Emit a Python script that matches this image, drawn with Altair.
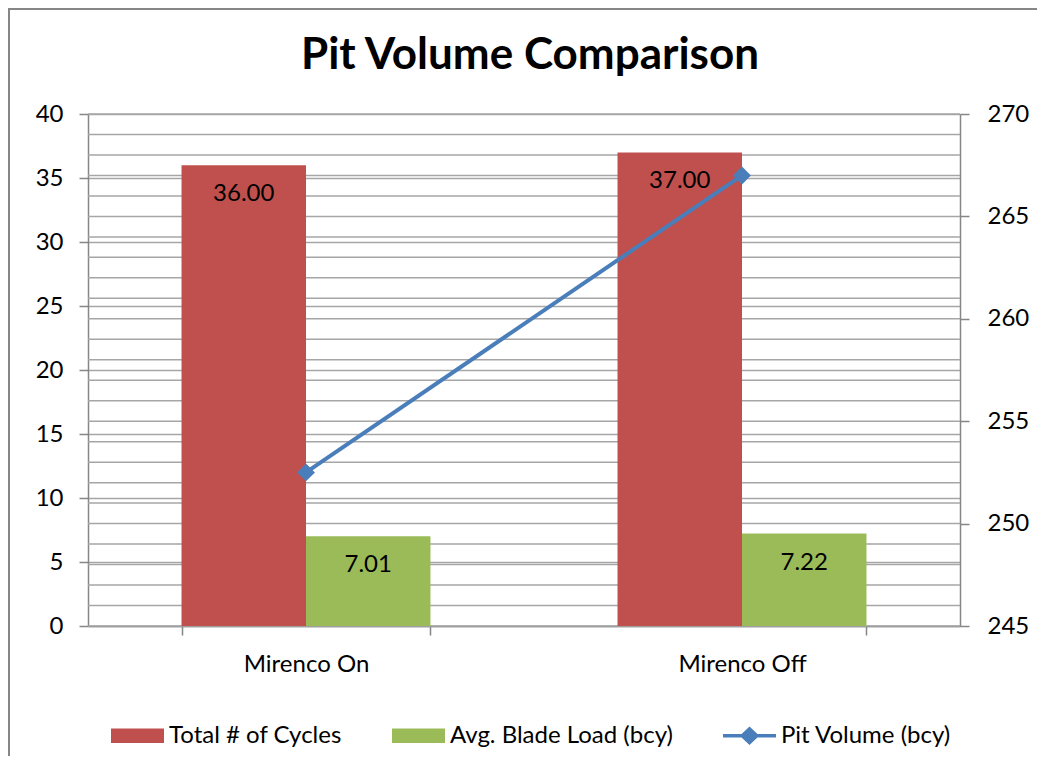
import altair as alt
import pandas as pd

chart_title = "Pit Volume Comparison"
categories = ["Mirenco On", "Mirenco Off"]
total_cycles = [36.00, 37.00]
blade_load = [7.01, 7.22]
pit_volume = [252.5, 267.0]
series_names = ["Total # of Cycles", "Avg. Blade Load (bcy)", "Pit Volume (bcy)"]
series_colors = ["#c0504d", "#9bbb59", "#4a7ebb"]
left_ticks = [0, 5, 10, 15, 20, 25, 30, 35, 40]
right_ticks = [245, 250, 255, 260, 265, 270]
right_grid = list(range(245, 271))

FONT = "Lato"
GRID = "#a6a6a6"
AXIS = "#868686"
FS = 24

bars_df = pd.DataFrame({
    "category": categories * 2,
    "series": [series_names[0]] * 2 + [series_names[1]] * 2,
    "value": total_cycles + blade_load,
})
bars_df["label"] = [f"{v:.2f}" for v in bars_df["value"]]
line_df = pd.DataFrame({"category": categories, "value": pit_volume})
grid_df = pd.DataFrame({"v": right_grid})
legend_df = pd.DataFrame({"series": series_names})
title_df = pd.DataFrame({"t": [chart_title]})

x_enc = alt.X(
    "category:N", sort=categories,
    scale=alt.Scale(paddingInner=0.429, paddingOuter=0.2145),
    axis=alt.Axis(title=None, labelAngle=0, tickBand="extent", tickSize=9,
                  tickColor=AXIS, domainColor=AXIS, domainWidth=1.5, tickWidth=1.5,
                  labelFontSize=FS, labelFont=FONT, labelColor="black",
                  labelPadding=17, grid=False),
)

left_scale = alt.Scale(domain=[0, 40], nice=False, zero=True)
right_scale = alt.Scale(domain=[245, 270], nice=False, zero=False)

grid = alt.Chart(grid_df).mark_rule(color=GRID, strokeWidth=1.5).encode(
    y=alt.Y("v:Q", scale=right_scale, axis=None)
)

bars = alt.Chart(bars_df).mark_bar().encode(
    x=x_enc,
    xOffset=alt.XOffset("series:N", sort=series_names[:2],
                        scale=alt.Scale(paddingInner=0, paddingOuter=0)),
    y=alt.Y("value:Q", scale=left_scale,
            axis=alt.Axis(title=None, orient="left", values=left_ticks, grid=True,
                          gridColor=GRID, gridWidth=1.5, tickSize=9, tickColor=AXIS,
                          tickWidth=1.5, domainColor=AXIS, domainWidth=1.5,
                          labelFontSize=FS, labelFont=FONT, labelColor="black",
                          labelPadding=16)),
    color=alt.Color("series:N", scale=alt.Scale(domain=series_names[:2], range=series_colors[:2]),
                    legend=None),
)

labels = alt.Chart(bars_df).mark_text(baseline="middle", dy=29, fontSize=FS, font=FONT,
                                      color="black").encode(
    x=alt.X("category:N", sort=categories),
    xOffset=alt.XOffset("series:N", sort=series_names[:2]),
    y=alt.Y("value:Q", scale=left_scale, axis=None),
    text="label:N",
)

line = alt.Chart(line_df).mark_line(
    color=series_colors[2], strokeWidth=4,
    point=alt.OverlayMarkDef(shape="diamond", size=320, filled=True, color=series_colors[2]),
).encode(
    x=alt.X("category:N", sort=categories),
    y=alt.Y("value:Q", scale=right_scale,
            axis=alt.Axis(title=None, orient="right", values=right_ticks, grid=False,
                          tickSize=9, tickColor=AXIS, tickWidth=1.5, domainColor=AXIS,
                          domainWidth=1.5, labelFontSize=FS, labelFont=FONT,
                          labelColor="black", labelPadding=18)),
)

rect_path = "M-1,-0.27 L1,-0.27 L1,0.27 L-1,0.27 Z"
line_path = ("M-1,-0.07 L-0.3,-0.07 L0,-0.35 L0.3,-0.07 L1,-0.07 L1,0.07 "
             "L0.3,0.07 L0,0.35 L-0.3,0.07 L-1,0.07 Z")

legend_props = dict(title=None, orient="none", direction="horizontal",
                    legendX=23, legendY=595, labelFontSize=FS,
                    labelFont=FONT, labelColor="black", labelLimit=400,
                    symbolSize=2809, symbolStrokeWidth=0, symbolOpacity=1,
                    columnPadding=50, labelOffset=5, padding=0)

legend_layer = alt.Chart(legend_df).transform_filter("false").mark_point(
    filled=True, opacity=1
).encode(
    color=alt.Color("series:N", scale=alt.Scale(domain=series_names, range=series_colors),
                    legend=alt.Legend(**legend_props)),
    shape=alt.Shape("series:N", scale=alt.Scale(domain=series_names,
                                                 range=[rect_path, rect_path, line_path]),
                    legend=alt.Legend(**legend_props)),
)

title_layer = alt.Chart(title_df).mark_text(
    fontSize=44, font=FONT, fontWeight="bold", color="black",
    align="center", baseline="alphabetic"
).encode(
    x=alt.value(442), y=alt.value(-45), text="t:N"
)

frame = alt.Chart(pd.DataFrame({"a": [0]})).mark_rect(
    fillOpacity=0, stroke=AXIS, strokeWidth=2
).encode(
    x=alt.value(-79), y=alt.value(-105), x2=alt.value(1000), y2=alt.value(700)
)

chart = alt.layer(grid, bars, labels, line, legend_layer, title_layer, frame).resolve_scale(
    y="independent", color="independent", shape="independent"
).properties(
    width=872, height=512,
    padding={"left": 80, "top": 106, "right": 77, "bottom": 130},
    autosize=alt.AutoSizeParams(type="none"),
).configure_view(stroke=None).configure(background="white")

chart.save("out.html", embed_options={"renderer": "svg", "actions": False})
